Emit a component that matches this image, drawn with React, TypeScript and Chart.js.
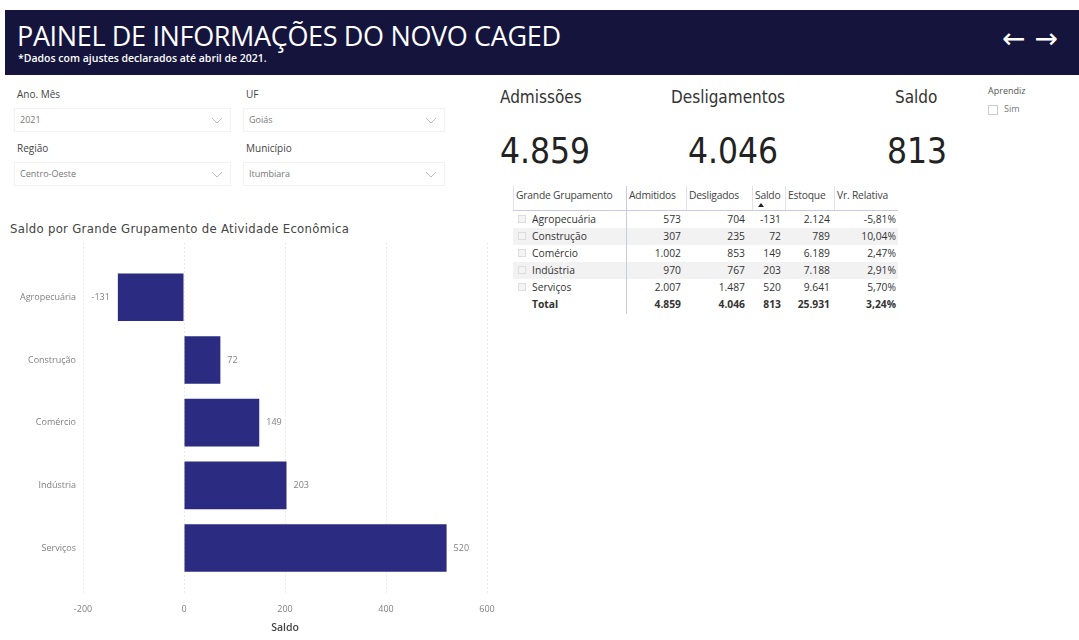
import React, { useEffect, useRef } from "react";
import { Chart, registerables } from "chart.js";

Chart.register(...registerables);

const categories = ["Agropecuária", "Construção", "Comércio", "Indústria", "Serviços"];
const saldo = [-131, 72, 149, 203, 520];
const admitidos = ["573", "307", "1.002", "970", "2.007"];
const desligados = ["704", "235", "853", "767", "1.487"];
const saldoTxt = ["-131", "72", "149", "203", "520"];
const estoque = ["2.124", "789", "6.189", "7.188", "9.641"];
const vrRelativa = ["-5,81%", "10,04%", "2,47%", "2,91%", "5,70%"];
const totalRow = ["Total", "4.859", "4.046", "813", "25.931", "3,24%"];
const tableHeaders = ["Grande Grupamento", "Admitidos", "Desligados", "Saldo", "Estoque", "Vr. Relativa"];
const xTicks = [-200, 0, 200, 400, 600];

const NAVY = "#14143c";
const BAR = "#2b2b82";
const SANS = "'Open Sans', 'Noto Sans', sans-serif";
const DIN = "'Liberation Sans Narrow', 'DejaVu Sans Condensed', Roboto, sans-serif";

const valueLabels = {
  id: "valueLabels",
  afterDatasetsDraw(chart: any) {
    const ctx = chart.ctx;
    const meta = chart.getDatasetMeta(0);
    ctx.save();
    ctx.font = "9px " + SANS;
    ctx.fillStyle = "#808080";
    ctx.textBaseline = "middle";
    meta.data.forEach((bar: any, i: number) => {
      const v = saldo[i];
      if (v >= 0) {
        ctx.textAlign = "left";
        ctx.fillText(String(v), bar.x + 7, bar.y);
      } else {
        ctx.textAlign = "right";
        ctx.fillText(String(v), bar.x - 8, bar.y);
      }
    });
    ctx.restore();
  },
};

function BarChart() {
  const ref = useRef<HTMLCanvasElement>(null);
  useEffect(() => {
    if (!ref.current) return;
    const chart = new Chart(ref.current, {
      type: "bar",
      data: {
        datasets: [
          {
            label: "Saldo",
            data: saldo.map((v, i) => ({ x: v, y: i })),
            backgroundColor: BAR,
            borderWidth: 0,
            barPercentage: 0.76,
            categoryPercentage: 1,
          },
        ],
      },
      options: {
        indexAxis: "y",
        animation: false,
        responsive: false,
        layout: { padding: { top: 2, right: 23, left: 0, bottom: 0 } },
        plugins: { legend: { display: false }, tooltip: { enabled: false } },
        scales: {
          y: {
            type: "linear",
            reverse: true,
            offset: false,
            min: -0.86,
            max: 4.75,
            afterBuildTicks: (scale: any) => {
              scale.ticks = categories.map((_, i) => ({ value: i }));
            },
            afterFit: (scale: any) => {
              scale.width = 83;
            },
            ticks: {
              autoSkip: false,
              padding: 7,
              color: "#808080",
              font: { size: 9, family: SANS },
              callback: (v: any) => categories[v] ?? "",
            },
            grid: { display: false, drawTicks: false, offset: false },
            border: { display: false },
          },
          x: {
            type: "linear",
            min: -200,
            max: 600,
            afterBuildTicks: (scale: any) => {
              scale.ticks = xTicks.map((v) => ({ value: v }));
            },
            afterFit: (scale: any) => {
              scale.height = 45;
            },
            ticks: {
              padding: 9,
              color: "#808080",
              font: { size: 9, family: SANS },
            },
            grid: { color: "#d9d9d9", drawTicks: false, lineWidth: 1 },
            border: { display: false, dash: [1, 3] },
            title: {
              display: true,
              text: "Saldo",
              color: "#444",
              font: { size: 10.5, family: SANS, weight: "600" },
              padding: { top: 0, bottom: 6 },
            },
          },
        },
      },
      plugins: [valueLabels],
    } as any);
    return () => chart.destroy();
  }, []);
  return <canvas ref={ref} width={510} height={409} style={{ position: "absolute", left: 0, top: 231, width: 510, height: 409 }} />;
}

function Slicer({ x, y, label, value, w }: { x: number; y: number; label: string; value: string; w: number }) {
  return (
    <>
      <div style={{ position: "absolute", left: x + 3, top: y, fontSize: 10, color: "#444", fontFamily: SANS }}>{label}</div>
      <div
        style={{
          position: "absolute",
          left: x,
          top: y + 21,
          width: w,
          height: 24,
          border: "1px solid #f2f2f2",
          boxSizing: "border-box",
          fontSize: 9,
          color: "#777",
          fontFamily: SANS,
          lineHeight: "22px",
          paddingLeft: 5,
        }}
      >
        {value}
        <svg width="10" height="6" style={{ position: "absolute", right: 8, top: 9 }}>
          <polyline points="0,0 5,5 10,0" fill="none" stroke="#bbb" strokeWidth="1" />
        </svg>
      </div>
    </>
  );
}

const TFS = 10.3;

function Table() {
  const colRight = [0, 681, 745, 781, 830, 896];
  const colSep = [626, 686, 752, 785, 834];
  const rowTops = [211, 228, 245, 262, 279, 296];
  const rows = categories.map((c, i) => [c, admitidos[i], desligados[i], saldoTxt[i], estoque[i], vrRelativa[i]]);
  const cell = (txt: string, ci: number, top: number, bold: boolean, key: string) => {
    const base: any = { position: "absolute", top, height: 17, lineHeight: "17px", fontSize: TFS, color: "#333", fontWeight: bold ? 700 : 400, fontFamily: SANS, whiteSpace: "nowrap" };
    if (ci === 0) return <div key={key} style={{ ...base, left: 532 }}>{txt}</div>;
    return <div key={key} style={{ ...base, right: 1079 - colRight[ci] }}>{txt}</div>;
  };
  return (
    <>
      {[1, 3].map((r) => (
        <div key={"bg" + r} style={{ position: "absolute", left: 513, top: rowTops[r], width: 385, height: 17, background: "#f2f2f2" }} />
      ))}
      <div style={{ position: "absolute", left: 513, top: 210, width: 385, height: 1, background: "#c8cbe0" }} />
      <div style={{ position: "absolute", left: 626, top: 186, width: 1, height: 128, background: "#c8cbe0" }} />
      {colSep.slice(1).map((x) => (
        <div key={"s" + x} style={{ position: "absolute", left: x, top: 186, width: 1, height: 24, background: "#e0e2ee" }} />
      ))}
      <div style={{ position: "absolute", left: 513, top: 186, width: 1, height: 24, background: "#e0e2ee" }} />
      {tableHeaders.map((h, i) => {
        const left = i === 0 ? 516 : colSep[i - 1] + 3;
        return (
          <div key={"h" + i} style={{ position: "absolute", left, top: 187, height: 17, lineHeight: "17px", fontSize: TFS, color: "#444", fontFamily: SANS, whiteSpace: "nowrap", letterSpacing: -0.2 }}>
            {h}
          </div>
        );
      })}
      <svg width="6" height="4" style={{ position: "absolute", left: 758, top: 203 }}>
        <polygon points="0,4 3,0 6,4" fill="#222" />
      </svg>
      {rows.map((r, ri) => (
        <React.Fragment key={"r" + ri}>
          <div style={{ position: "absolute", left: 518, top: rowTops[ri] + 4, width: 8, height: 8, border: "1px solid #ddd", boxSizing: "border-box", background: "#f4f4f4" }} />
          {r.map((t, ci) => cell(t, ci, rowTops[ri], false, ri + "-" + ci))}
        </React.Fragment>
      ))}
      {totalRow.map((t, ci) => cell(t, ci, rowTops[5], true, "t" + ci))}
    </>
  );
}

export default function App() {
  return (
    <div style={{ position: "fixed", left: 0, top: 0, width: 1079, height: 640, background: "#fff", overflow: "hidden", fontFamily: SANS }}>
      <div style={{ position: "absolute", left: 5, top: 10, width: 1074, height: 65, background: NAVY }} />
      <div style={{ position: "absolute", left: 17, top: 17, color: "#fff", fontSize: 27, fontFamily: SANS, whiteSpace: "nowrap", letterSpacing: -0.35 }}>
        PAINEL DE INFORMAÇÕES DO NOVO CAGED
      </div>
      <div style={{ position: "absolute", left: 18, top: 51, color: "#fff", fontSize: 10.5, fontWeight: 600, fontFamily: SANS, whiteSpace: "nowrap" }}>
        *Dados com ajustes declarados até abril de 2021.
      </div>
      <div style={{ position: "absolute", left: 1002, top: 22, color: "#fff", fontSize: 28, fontFamily: "'DejaVu Sans', sans-serif", whiteSpace: "nowrap", letterSpacing: 9 }}>
        ←→
      </div>

      <Slicer x={14} y={87} label="Ano. Mês" value="2021" w={217} />
      <Slicer x={243} y={87} label="UF" value="Goiás" w={202} />
      <Slicer x={14} y={141} label="Região" value="Centro-Oeste" w={217} />
      <Slicer x={243} y={141} label="Município" value="Itumbiara" w={202} />

      <div style={{ position: "absolute", left: 500, top: 87, fontSize: 17, color: "#333", fontFamily: DIN }}>Admissões</div>
      <div style={{ position: "absolute", left: 671, top: 87, fontSize: 17, color: "#333", fontFamily: DIN }}>Desligamentos</div>
      <div style={{ position: "absolute", left: 895, top: 87, fontSize: 17, color: "#333", fontFamily: DIN }}>Saldo</div>
      <div style={{ position: "absolute", left: 500, top: 131, fontSize: 35, color: "#222", fontFamily: DIN }}>4.859</div>
      <div style={{ position: "absolute", left: 688, top: 131, fontSize: 35, color: "#222", fontFamily: DIN }}>4.046</div>
      <div style={{ position: "absolute", left: 887, top: 131, fontSize: 35, color: "#222", fontFamily: DIN }}>813</div>

      <div style={{ position: "absolute", left: 988, top: 84, fontSize: 9, color: "#555", fontFamily: SANS }}>Aprendiz</div>
      <div style={{ position: "absolute", left: 988, top: 105, width: 10, height: 10, border: "1px solid #ccc", boxSizing: "border-box" }} />
      <div style={{ position: "absolute", left: 1004, top: 102, fontSize: 9, color: "#777", fontFamily: SANS }}>Sim</div>

      <Table />

      <div style={{ position: "absolute", left: 10, top: 221, fontSize: 13, color: "#444", fontFamily: DIN, whiteSpace: "nowrap", letterSpacing: 0.3 }}>
        Saldo por Grande Grupamento de Atividade Econômica
      </div>
      <BarChart />
    </div>
  );
}
